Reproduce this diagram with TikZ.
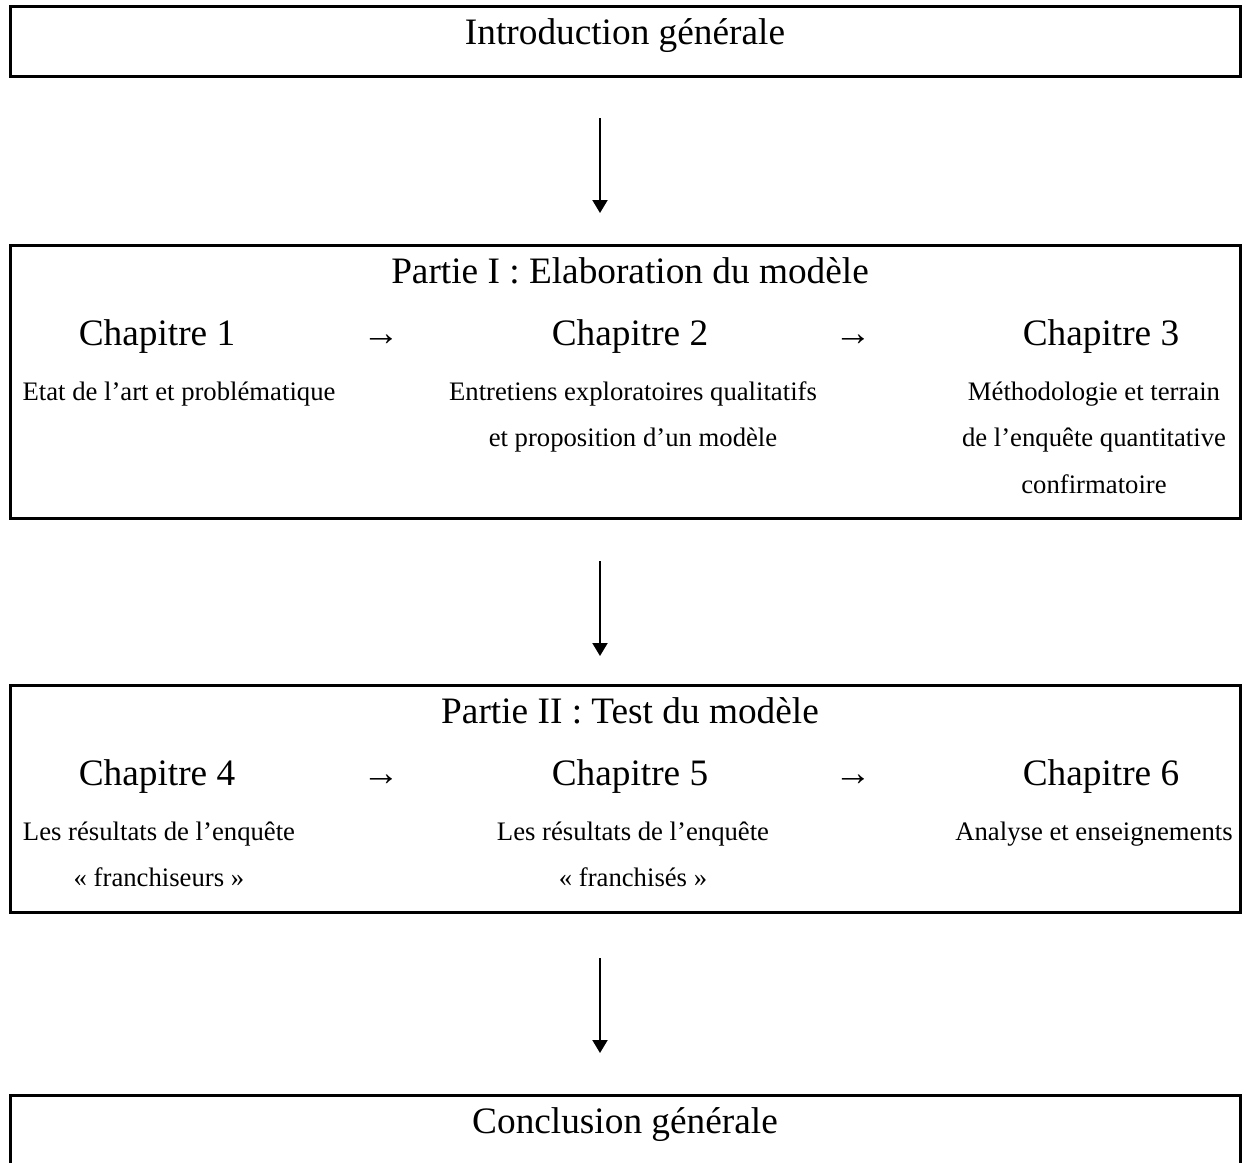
\documentclass[tikz,border=0pt]{standalone}
\usepackage{fontspec}
\setmainfont{Liberation Serif}
\usetikzlibrary{positioning,arrows.meta}

\begin{document}
\begin{tikzpicture}[
    x=1pt, y=-1pt,
    cadre/.style={draw, line width=3pt, minimum width=1230pt, inner sep=0pt, outer sep=0pt, anchor=north west},
    grand/.style={font=\fontsize{37.3}{44}\selectfont, inner sep=0pt, anchor=base},
    petit/.style={font=\fontsize{26.7}{46.7}\selectfont, inner sep=0pt, anchor=base, align=center},
    fleche/.style={line width=2pt, -{Triangle[width=15pt,length=13pt]}}
]
\clip (0,0) rectangle (1246,1162);
\node[cadre, minimum height=70.5pt] (intro) at (10.5,6) {};
\node[cadre, minimum height=273pt] (p1) at (10.5,245) {};
\node[cadre, minimum height=227pt] (p2) at (10.5,685) {};
\node[cadre, minimum height=70.5pt] (concl) at (10.5,1095) {};

\node[grand] (tintro) at (625,44) {Introduction générale};
\node[grand] (tp1) at (630,283) {Partie I : Elaboration du modèle};
\node[grand] (tp2) at (630,723) {Partie II : Test du modèle};
\node[grand] (tconcl) at (625,1133) {Conclusion générale};

\foreach \n/\x/\y in {1/157/345,2/630/345,3/1101/345,4/157/785,5/630/785,6/1101/785}
    \node[grand] (ch\n) at (\x,\y) {Chapitre \n};
\foreach \i/\x/\y in {1/381/345,2/853/345,3/381/785,4/853/785}
    \node[grand] (suite\i) at (\x,\y) {→};

\node[petit] (d1) at (179,400) {Etat de l’art et problématique};
\node[petit] (d2) at (633,446.7) {Entretiens exploratoires qualitatifs\\et proposition d’un modèle};
\node[petit] (d3) at (1094,493.4) {Méthodologie et terrain\\de l’enquête quantitative\\confirmatoire};
\node[petit] (d4) at (159,886.7) {Les résultats de l’enquête\\« franchiseurs »};
\node[petit] (d5) at (633,886.7) {Les résultats de l’enquête\\« franchisés »};
\node[petit] (d6) at (1094,840) {Analyse et enseignements};

\draw[fleche, shorten <=41.5pt, shorten >=32pt] ([xshift=-25.5pt]intro.south) -- ([xshift=-25.5pt]p1.north);
\draw[fleche, shorten <=43pt, shorten >=29pt] ([xshift=-25.5pt]p1.south) -- ([xshift=-25.5pt]p2.north);
\draw[fleche, shorten <=46pt, shorten >=42pt] ([xshift=-25.5pt]p2.south) -- ([xshift=-25.5pt]concl.north);
\end{tikzpicture}
\end{document}
